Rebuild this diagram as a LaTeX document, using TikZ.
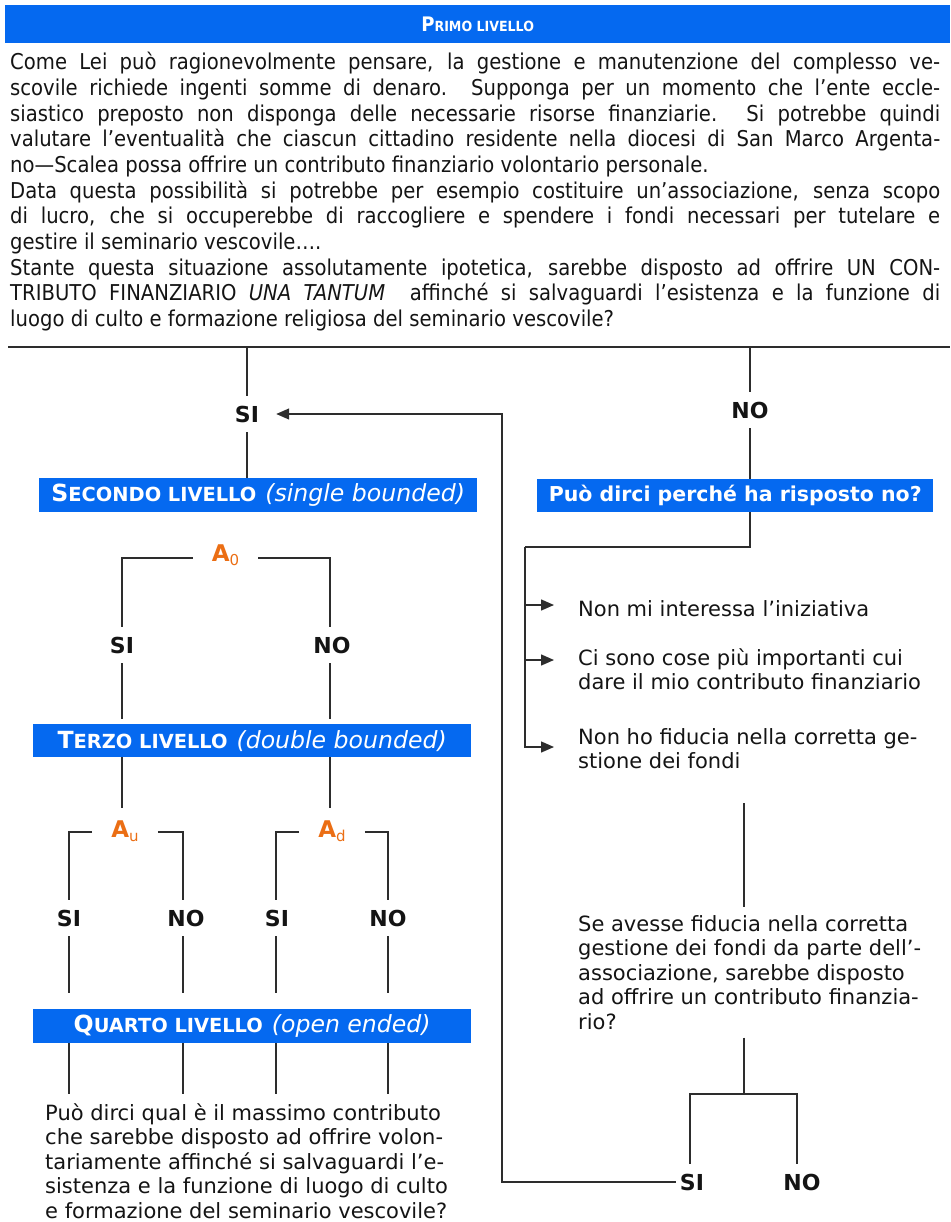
\documentclass[tikz,border=0pt]{standalone}
\usepackage{fontspec}
\setmainfont{DejaVu Sans}
\newfontfamily\tahoma[FakeStretch=0.9]{DejaVu Sans}
\usetikzlibrary{arrows.meta,calc}
\definecolor{barblue}{RGB}{5,105,240}
\definecolor{aorange}{RGB}{235,110,20}
\definecolor{ink}{RGB}{20,20,20}
\definecolor{linec}{RGB}{45,45,45}
\newcommand\bigsc[2]{{\fontsize{23.6}{23.6}\selectfont\bfseries #1\fontsize{19.4}{19.4}\selectfont #2}}
\newcommand\bitl[1]{{\fontsize{23.6}{23.6}\selectfont\itshape #1}}
\newcommand\asub[1]{\raisebox{-3.5pt}{\fontsize{15}{15}\selectfont\mdseries #1}}
\begin{document}
\begin{tikzpicture}[x=1pt,y=-1pt,
  ln/.style={draw=linec,line width=1.4pt},
  tip/.style={-{Triangle[length=13pt,width=11pt]}},
  bar/.style={fill=barblue,text=white,inner sep=0pt,anchor=north west},
  yn/.style={font=\fontsize{22}{22}\selectfont\bfseries,text=ink,minimum height=36pt,inner sep=0pt},
  amt/.style={text=aorange,inner ysep=0pt,inner xsep=19pt,font=\fontsize{23}{23}\selectfont\bfseries},
  amtl/.style={amt,minimum height=46pt},
  body/.style={text=ink,align=left,inner sep=0pt,anchor=north west,font=\fontsize{21}{24.5}\selectfont},
]
\useasboundingbox (0,0) rectangle (950,1222);

% ---------- header ----------
\node[bar,minimum width=945pt,minimum height=38pt] (h1) at (5,5)
  {\tahoma\bfseries\fontsize{20}{20}\selectfont P\fontsize{14}{14}\selectfont RIMO LIVELLO};

\node[anchor=north west,inner sep=0pt,text width=930pt,align=justify,text=ink,
      font=\tahoma\fontsize{21.8}{25.7}\selectfont] (par) at (10,52)
{Come Lei può ragionevolmente pensare, la gestione e manutenzione del complesso ve-\linebreak
scovile richiede ingenti somme di denaro. Supponga per un momento che l’ente eccle-\linebreak
siastico preposto non disponga delle necessarie risorse finanziarie. Si potrebbe quindi\linebreak
valutare l’eventualità che ciascun cittadino residente nella diocesi di San Marco Argenta-\linebreak
no—Scalea possa offrire un contributo finanziario volontario personale.\\
Data questa possibilità si potrebbe per esempio costituire un’associazione, senza scopo\linebreak
di lucro, che si occuperebbe di raccogliere e spendere i fondi necessari per tutelare e\linebreak
gestire il seminario vescovile….\\
Stante questa situazione assolutamente ipotetica, sarebbe disposto ad offrire UN CON-\linebreak
TRIBUTO FINANZIARIO \textit{UNA TANTUM}\ \ affinché si salvaguardi l’esistenza e la funzione di\linebreak
luogo di culto e formazione religiosa del seminario vescovile?};

% ---------- first split ----------
\coordinate (tl) at (8,347);
\coordinate (tr) at (950,347);
\draw[ln] (tl) -- (tr);

\node[yn] (si0) at (247,414) {SI};
\node[yn] (no0) at (750,410) {NO};
\draw[ln] (si0 |- tl) -- (si0.north);
\draw[ln] (no0 |- tl) -- (no0.north);

% ---------- bars ----------
\node[bar,minimum width=438pt,minimum height=34pt] (b2) at (39,478)
  {\bigsc{S}{ECONDO LIVELLO}\hspace{9pt}\bitl{(single bounded)}};
\node[bar,minimum width=438pt,minimum height=33pt] (b3l) at (33,724)
  {\bigsc{T}{ERZO LIVELLO}\hspace{9pt}\bitl{(double bounded)}};
\node[bar,minimum width=438pt,minimum height=34pt] (b4) at (33,1009)
  {\bigsc{Q}{UARTO LIVELLO}\hspace{9pt}\bitl{(open ended)}};
\node[bar,minimum width=396pt,minimum height=33pt] (b3) at (537,479)
  {\fontsize{20.5}{20.5}\selectfont\bfseries Può dirci perché ha risposto no?};

\draw[ln] (si0.south) -- (si0.south |- b2.north);
\draw[ln] (no0.south) -- (no0.south |- b3.north);

% ---------- second level ----------
\node[amt] (a0) at (225.5,555) {A\asub{0}};
\coordinate (a0l) at (122,558);
\coordinate (a0r) at (330,558);
\node[yn] (sia) at (122,645) {SI};
\node[yn] (noa) at (332,645) {NO};
\draw[ln] (a0l -| a0.west) -- (a0l) -- (a0l |- sia.north);
\draw[ln] (a0r -| a0.east) -- (a0r) -- (a0r |- noa.north);
\draw[ln,shorten >=5pt] (sia.south) -- (sia.south |- b3l.north);
\draw[ln,shorten >=5pt] (a0r |- noa.south) -- (a0r |- b3l.north);

% ---------- third level ----------
\node[amtl] (au) at (125,831) {A\asub{u}};
\node[amtl] (ad) at (332,831) {A\asub{d}};
\draw[ln] (b3l.south -| sia) -- (sia |- au.north);
\draw[ln] (b3l.south -| a0r) -- (a0r |- ad.north);
\coordinate (aul) at (69,832);
\coordinate (aur) at (183,832);
\coordinate (adl) at (276,832);
\coordinate (adr) at (388,832);
\node[yn] (sib) at (69,918) {SI};
\node[yn] (nob) at (186,918) {NO};
\node[yn] (sic) at (277,918) {SI};
\node[yn] (nod) at (388,918) {NO};
\draw[ln] (aul -| au.west) -- (aul) -- (aul |- sib.north);
\draw[ln] (aur -| au.east) -- (aur) -- (aur |- nob.north);
\draw[ln] (adl -| ad.west) -- (adl) -- (adl |- sic.north);
\draw[ln] (adr -| ad.east) -- (adr) -- (adr |- nod.north);
\draw[ln,shorten >=16pt] (aul |- sib.south) -- (aul |- b4.north);
\draw[ln,shorten >=16pt] (aur |- nob.south) -- (aur |- b4.north);
\draw[ln,shorten >=16pt] (adl |- sic.south) -- (adl |- b4.north);
\draw[ln,shorten >=16pt] (adr |- nod.south) -- (adr |- b4.north);

% ---------- fourth level ----------
\node[body,inner ysep=9pt] (q1) at (45,1094)
{Può dirci qual è il massimo contributo\\
che sarebbe disposto ad offrire volon-\\
tariamente affinché si salvaguardi l’e-\\
sistenza e la funzione di luogo di culto\\
e formazione del seminario vescovile?};
\draw[ln] (b4.south -| aul) -- (aul |- q1.north);
\draw[ln] (b4.south -| aur) -- (aur |- q1.north);
\draw[ln] (b4.south -| adl) -- (adl |- q1.north);
\draw[ln] (b4.south -| adr) -- (adr |- q1.north);

% ---------- right branch ----------
\coordinate (rj) at (525,547);
\draw[ln] (b3.south -| no0) |- (rj);
\coordinate (t1) at (554,605);
\coordinate (t2) at (554,660);
\coordinate (t3) at (554,747);
\draw[ln,tip] (rj |- t1) -- (t1);
\draw[ln,tip] (rj |- t2) -- (t2);
\draw[ln,tip] (rj) |- (t3);
\node[body] (r1) at (578,600) {Non mi interessa l’iniziativa};
\node[body] (r2) at (578,648) {Ci sono cose più importanti cui\\ dare il mio contributo finanziario};
\node[body] (r3) at (578,728) {Non ho fiducia nella corretta ge-\\ stione dei fondi};

\coordinate (q2t) at (744,803);
\node[body,inner ysep=8pt] (q2) at (578,907)
{Se avesse fiducia nella corretta\\
gestione dei fondi da parte dell’-\\
associazione, sarebbe disposto\\
ad offrire un contributo finanzia-\\
rio?};
\draw[ln] (q2t) -- (q2t |- q2.north);

\coordinate (j2) at (744,1094);
\node[yn] (si5) at (692,1182) {SI};
\node[yn] (no5) at (802,1182) {NO};
\coordinate (j2l) at (690,1094);
\coordinate (j2r) at (797,1094);
\draw[ln] (q2.south -| j2) -- (j2);
\draw[ln] (j2l |- si5.north) -- (j2l) -- (j2r) -- (j2r |- no5.north);

% ---------- return arrow ----------
\coordinate (rv) at (502,800);
\draw[ln,tip,shorten <=4pt,shorten >=17pt] (si5.west) -| (rv) |- (si0.east);
\end{tikzpicture}
\end{document}
